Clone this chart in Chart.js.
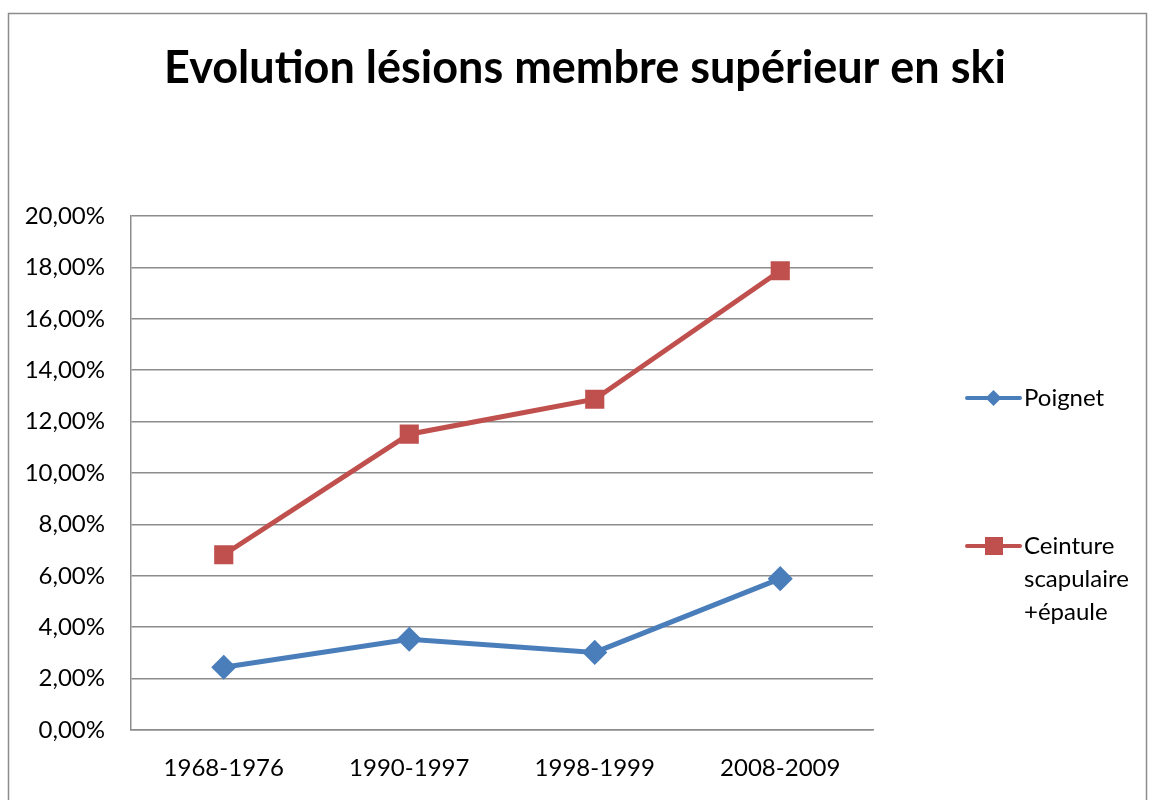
<!DOCTYPE html>
<html>
<head>
<meta charset="utf-8">
<script src="https://cdn.jsdelivr.net/npm/chart.js@4.4.1/dist/chart.umd.min.js"></script>
<style>
html,body{margin:0;padding:0;background:#fff;}
#wrap{position:relative;width:1150px;height:800px;}
canvas{display:block;}
</style>
</head>
<body>
<div id="wrap"><canvas id="c" width="1150" height="800"></canvas></div>
<script>
const titleText = 'Evolution lésions membre supérieur en ski';
const categories = ['1968-1976', '1990-1997', '1998-1999', '2008-2009'];
const poignetValues = [2.44, 3.53, 3.02, 5.89];
const ceintureValues = [6.82, 11.51, 12.87, 17.87];
const seriesLabels = ['Poignet', ['Ceinture', 'scapulaire', '+épaule']];
const yTickValues = [0, 2, 4, 6, 8, 10, 12, 14, 16, 18, 20];

const FONT = "Lato, 'Open Sans', sans-serif";

const frameTitleLegend = {
  id: 'frameTitleLegend',
  beforeDraw(chart) {
    const ctx = chart.ctx;
    ctx.save();
    ctx.fillStyle = '#fff';
    ctx.fillRect(0, 0, chart.width, chart.height);
    ctx.strokeStyle = '#8c8c8c';
    ctx.lineWidth = 1.5;
    ctx.strokeRect(8.5, 13.5, 1138, 820);
    ctx.restore();
  },
  afterDraw(chart) {
    const ctx = chart.ctx;
    ctx.save();
    ctx.fillStyle = '#000';
    ctx.font = 'bold 45px ' + FONT;
    ctx.textAlign = 'center';
    ctx.textBaseline = 'middle';
    ctx.fillText(titleText, 585, 68);

    const entries = [
      {y: 398, ds: chart.data.datasets[0], shape: 'diamond'},
      {y: 546, ds: chart.data.datasets[1], shape: 'square'}
    ];
    entries.forEach(e => {
      ctx.strokeStyle = e.ds.borderColor;
      ctx.lineWidth = 4;
      ctx.lineCap = 'round';
      ctx.beginPath();
      ctx.moveTo(967, e.y);
      ctx.lineTo(1020, e.y);
      ctx.stroke();
      ctx.fillStyle = e.ds.backgroundColor;
      ctx.beginPath();
      if (e.shape === 'diamond') {
        ctx.moveTo(993.5, e.y - 8); ctx.lineTo(1001.5, e.y); ctx.lineTo(993.5, e.y + 8); ctx.lineTo(985.5, e.y);
        ctx.closePath(); ctx.fill();
      } else {
        ctx.fillRect(985, e.y - 9, 18, 18);
      }
      ctx.fillStyle = '#000';
      ctx.font = '24px ' + FONT;
      ctx.textBaseline = 'middle';
      ctx.textAlign = 'left';
      const lines = Array.isArray(e.ds.label) ? e.ds.label : [e.ds.label];
      lines.forEach((l, i) => ctx.fillText(l, 1024, e.y + i * 33));
    });
    ctx.restore();
  }
};

new Chart(document.getElementById('c'), {
  type: 'line',
  data: {
    labels: categories,
    datasets: [
      {
        label: seriesLabels[0],
        data: poignetValues,
        borderColor: '#4a7ebb',
        backgroundColor: '#4a7ebb',
        borderWidth: 5,
        pointStyle: 'rectRot',
        pointRadius: 9,
        pointHoverRadius: 9,
        tension: 0
      },
      {
        label: seriesLabels[1],
        data: ceintureValues,
        borderColor: '#c0504d',
        backgroundColor: '#c0504d',
        borderWidth: 5,
        pointStyle: 'rect',
        pointRadius: 10,
        pointHoverRadius: 10,
        tension: 0
      }
    ]
  },
  options: {
    responsive: false,
    animation: false,
    devicePixelRatio: 1,
    layout: {padding: {left: 0, right: 277, top: 216, bottom: 0}},
    plugins: {
      legend: {display: false},
      tooltip: {enabled: false},
      title: {display: false}
    },
    scales: {
      x: {
        offset: true,
        grid: {display: false, drawTicks: false},
        border: {display: true, color: '#8c8c8c', width: 1.5},
        ticks: {color: '#000', font: {family: FONT, size: 24}, padding: 24, maxRotation: 0},
        afterFit(s) { s.height = 70; }
      },
      y: {
        min: 0, max: 20,
        afterBuildTicks(s) { s.ticks = yTickValues.map(v => ({value: v})); },
        grid: {color: '#8c8c8c', lineWidth: 1.5, drawTicks: false},
        border: {display: true, color: '#8c8c8c', width: 1.5},
        ticks: {
          color: '#000', font: {family: FONT, size: 24}, padding: 26,
          callback: v => v.toFixed(2).replace('.', ',') + '%'
        },
        afterFit(s) { s.width = 131; }
      }
    }
  },
  plugins: [frameTitleLegend]
});
</script>
</body>
</html>
